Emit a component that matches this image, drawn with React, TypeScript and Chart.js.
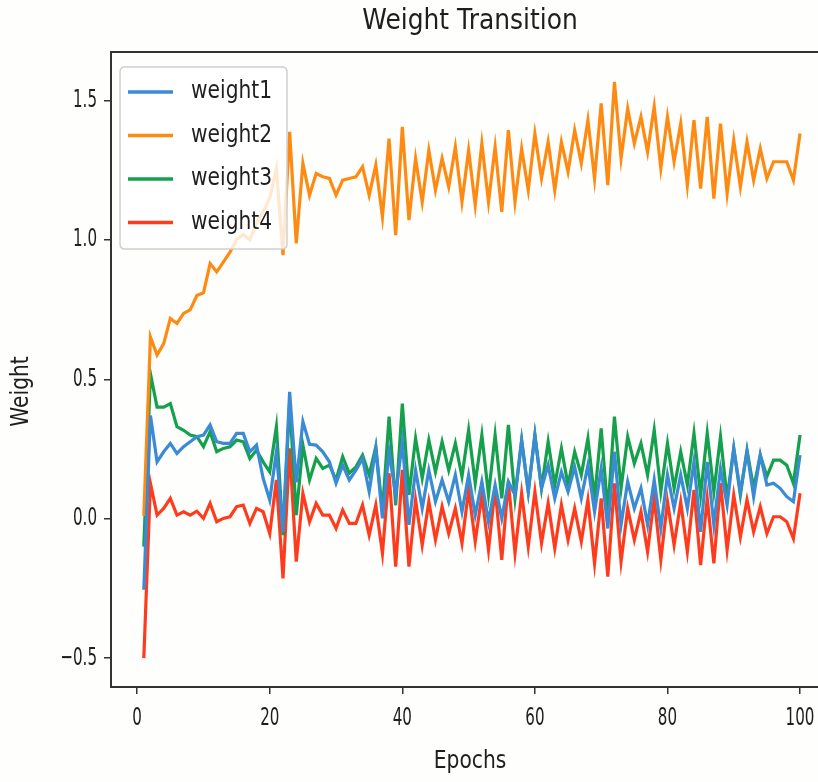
import React, { useEffect, useRef } from 'react';
import { Chart, registerables } from 'chart.js';

Chart.register(...registerables);

const epochs: number[] = Array.from({ length: 100 }, (_, i) => i + 1);

const weight1: number[] = [
  -0.255, 0.37, 0.204, 0.24, 0.27, 0.234, 0.258, 0.276, 0.294, 0.30,
  0.336, 0.276, 0.27, 0.27, 0.306, 0.306, 0.24, 0.264, 0.145, 0.067,
  0.24, -0.047, 0.455, 0.13, 0.348, 0.267, 0.264, 0.24, 0.204, 0.127,
  0.192, 0.139, 0.174, 0.216, 0.097, 0.252, 0.001, 0.24, 0.085, 0.276,
  -0.022, 0.174, 0.037, 0.174, 0.061, 0.139, 0.061, 0.157, 0.025, 0.157,
  0.013, 0.133, -0.011, 0.121, 0.001, 0.133, 0.085, 0.28, 0.097, 0.30,
  0.109, 0.192, 0.073, 0.168, 0.097, 0.186, 0.073, 0.192, 0.025, 0.18,
  -0.035, 0.24, -0.022, 0.133, 0.037, 0.109, -0.022, 0.139, -0.035, 0.157,
  0.037, 0.157, 0.037, 0.204, -0.047, 0.204, -0.022, 0.18, 0.049, 0.252,
  0.097, 0.24, 0.079, 0.228, 0.121, 0.127, 0.109, 0.079, 0.061, 0.228,
];

const weight2: number[] = [
  0.01, 0.652, 0.587, 0.628, 0.718, 0.70, 0.736, 0.749, 0.80, 0.81,
  0.915, 0.885, 0.92, 0.956, 1.0, 1.02, 1.0, 1.06, 1.1, 1.15,
  1.256, 0.945, 1.387, 0.987, 1.274, 1.16, 1.238, 1.226, 1.22, 1.16,
  1.214, 1.22, 1.226, 1.262, 1.16, 1.268, 1.082, 1.363, 1.017, 1.405,
  1.071, 1.292, 1.136, 1.321, 1.178, 1.292, 1.19, 1.333, 1.136, 1.321,
  1.124, 1.345, 1.136, 1.333, 1.1, 1.393, 1.136, 1.327, 1.178, 1.381,
  1.22, 1.351, 1.178, 1.351, 1.244, 1.393, 1.274, 1.429, 1.22, 1.489,
  1.196, 1.566, 1.292, 1.471, 1.345, 1.441, 1.315, 1.477, 1.256, 1.441,
  1.28, 1.417, 1.196, 1.429, 1.184, 1.441, 1.148, 1.417, 1.166, 1.357,
  1.19, 1.351, 1.214, 1.327, 1.22, 1.28, 1.28, 1.28, 1.214, 1.381,
];

const weight3: number[] = [
  -0.10, 0.52, 0.40, 0.40, 0.413, 0.33, 0.317, 0.30, 0.294, 0.258,
  0.312, 0.24, 0.252, 0.258, 0.282, 0.276, 0.216, 0.246, 0.204, 0.168,
  0.33, -0.059, 0.42, 0.013, 0.264, 0.139, 0.216, 0.18, 0.192, 0.139,
  0.222, 0.163, 0.186, 0.228, 0.157, 0.258, 0.025, 0.366, 0.049, 0.413,
  0.085, 0.288, 0.145, 0.282, 0.168, 0.276, 0.174, 0.27, 0.151, 0.318,
  0.127, 0.30, 0.085, 0.30, 0.073, 0.336, 0.073, 0.282, 0.097, 0.30,
  0.109, 0.276, 0.121, 0.252, 0.121, 0.24, 0.157, 0.288, 0.073, 0.324,
  0.025, 0.366, 0.109, 0.294, 0.198, 0.27, 0.157, 0.318, 0.097, 0.27,
  0.109, 0.24, 0.121, 0.306, 0.085, 0.306, 0.097, 0.294, 0.073, 0.252,
  0.085, 0.246, 0.109, 0.228, 0.151, 0.21, 0.21, 0.192, 0.127, 0.30,
];

const weight4: number[] = [
  -0.50, 0.127, 0.013, 0.037, 0.073, 0.013, 0.025, 0.013, 0.027, 0.001,
  0.055, -0.011, 0.001, 0.007, 0.043, 0.049, -0.017, 0.037, 0.025, -0.053,
  0.139, -0.214, 0.252, -0.154, 0.091, -0.011, 0.055, 0.013, 0.013, -0.035,
  0.031, -0.017, -0.017, 0.049, -0.059, 0.049, -0.124, 0.163, -0.172, 0.175,
  -0.172, 0.067, -0.094, 0.061, -0.076, 0.043, -0.053, 0.037, -0.088, 0.103,
  -0.082, 0.085, -0.112, 0.109, -0.148, 0.133, -0.124, 0.091, -0.1, 0.097,
  -0.088, 0.055, -0.106, 0.049, -0.076, 0.037, -0.082, 0.067, -0.16, 0.073,
  -0.208, 0.127, -0.154, 0.037, -0.076, 0.025, -0.118, 0.073, -0.148, 0.061,
  -0.094, 0.06, -0.118, 0.103, -0.166, 0.073, -0.16, 0.127, -0.112, 0.085,
  -0.065, 0.067, -0.047, 0.043, -0.053, 0.007, 0.007, -0.011, -0.071, 0.091,
];

const seriesLabels: string[] = ['weight1', 'weight2', 'weight3', 'weight4'];
const seriesColors: string[] = ['#3a8ad6', '#ff8a12', '#14a04c', '#ff3b1e'];

const xTicks: number[] = [0, 20, 40, 60, 80, 100];
const xTickLabels: string[] = ['0', '20', '40', '60', '80', '100'];
const yTicks: number[] = [-0.5, 0, 0.5, 1.0, 1.5];
const yTickLabels: string[] = ['\u22120.5', '0.0', '0.5', '1.0', '1.5'];

const titleText = 'Weight Transition';
const xTitle = 'Epochs';
const yTitle = 'Weight';

const FONT = "'DejaVu Sans', sans-serif";
const TEXT_COLOR = '#1e1e1e';
const SPINE = '#333333';

function drawText(
  ctx: CanvasRenderingContext2D,
  text: string,
  x: number,
  y: number,
  size: number,
  sx: number,
  sy: number,
  align: CanvasTextAlign,
  rot = 0
) {
  ctx.save();
  ctx.translate(x, y);
  if (rot) ctx.rotate(rot);
  ctx.scale(sx, sy);
  ctx.font = `${size}px ${FONT}`;
  ctx.textAlign = align;
  ctx.textBaseline = 'middle';
  ctx.fillStyle = TEXT_COLOR;
  ctx.fillText(text, 0, 0);
  ctx.restore();
}

const decorPlugin = {
  id: 'decor',
  beforeDraw(chart: any) {
    const ctx = chart.ctx as CanvasRenderingContext2D;
    ctx.save();
    ctx.fillStyle = '#fefefc';
    ctx.fillRect(0, 0, chart.width, chart.height);
    ctx.restore();
  },
  afterDatasetsDraw(chart: any) {
    const ctx = chart.ctx as CanvasRenderingContext2D;
    const { left, top, right, bottom } = chart.chartArea;
    ctx.save();
    ctx.strokeStyle = SPINE;
    ctx.lineWidth = 2;
    ctx.beginPath();
    ctx.moveTo(right + 2, top);
    ctx.lineTo(left, top);
    ctx.lineTo(left, bottom);
    ctx.lineTo(right + 2, bottom);
    ctx.stroke();
    ctx.restore();

    const bx = 120, by = 67, bw = 167, bh = 182, r = 5;
    ctx.save();
    ctx.beginPath();
    ctx.moveTo(bx + r, by);
    ctx.lineTo(bx + bw - r, by);
    ctx.quadraticCurveTo(bx + bw, by, bx + bw, by + r);
    ctx.lineTo(bx + bw, by + bh - r);
    ctx.quadraticCurveTo(bx + bw, by + bh, bx + bw - r, by + bh);
    ctx.lineTo(bx + r, by + bh);
    ctx.quadraticCurveTo(bx, by + bh, bx, by + bh - r);
    ctx.lineTo(bx, by + r);
    ctx.quadraticCurveTo(bx, by, bx + r, by);
    ctx.closePath();
    ctx.fillStyle = 'rgba(255,255,255,0.8)';
    ctx.fill();
    ctx.strokeStyle = '#d0d0d0';
    ctx.lineWidth = 1.5;
    ctx.stroke();
    chart.data.datasets.forEach((ds: any, i: number) => {
      const y = 92 + i * 43.5;
      ctx.strokeStyle = ds.borderColor;
      ctx.lineWidth = 3.5;
      ctx.beginPath();
      ctx.moveTo(128, y);
      ctx.lineTo(173, y);
      ctx.stroke();
      drawText(ctx, ds.label, 191, y, 22, 0.92, 1.12, 'left');
    });
    ctx.restore();
  },
  afterDraw(chart: any) {
    const ctx = chart.ctx as CanvasRenderingContext2D;
    const xs = chart.scales.x;
    const ys = chart.scales.y;
    const { left, top, bottom } = chart.chartArea;
    drawText(ctx, titleText, 470, 22, 26, 0.96, 1.1, 'center');
    xTicks.forEach((v, i) => {
      drawText(ctx, xTickLabels[i], xs.getPixelForValue(v), bottom + 31, 21, 0.72, 1.2, 'center');
    });
    yTicks.forEach((v, i) => {
      drawText(ctx, yTickLabels[i], left - 14, ys.getPixelForValue(v), 21, 0.72, 1.2, 'right');
    });
    drawText(ctx, xTitle, 470, 762, 22, 0.92, 1.12, 'center');
    drawText(ctx, yTitle, 22, (top + bottom) / 2 + 22, 22, 0.92, 1.12, 'center', -Math.PI / 2);
  },
};

export default function App() {
  const ref = useRef<HTMLCanvasElement | null>(null);
  useEffect(() => {
    if (!ref.current) return;
    const datasets = [weight1, weight2, weight3, weight4].map((arr, k) => ({
      label: seriesLabels[k],
      data: arr.map((v, i) => ({ x: epochs[i], y: v })),
      borderColor: seriesColors[k],
      backgroundColor: seriesColors[k],
      borderWidth: 3.2,
      pointRadius: 0,
      tension: 0,
      fill: false,
    }));
    const chart = new Chart(ref.current, {
      type: 'line',
      data: { datasets },
      options: {
        animation: false,
        responsive: false,
        layout: { padding: { top: 52, left: 0, right: 0, bottom: 0 } },
        plugins: { legend: { display: false }, title: { display: false }, tooltip: { enabled: false } },
        scales: {
          x: {
            type: 'linear',
            min: -3.95,
            max: 102.71,
            afterBuildTicks: (s: any) => {
              s.ticks = xTicks.map((v) => ({ value: v }));
            },
            afterFit: (s: any) => {
              s.height = 95;
            },
            ticks: { display: false },
            grid: { drawOnChartArea: false, drawTicks: true, tickLength: 7, color: SPINE, lineWidth: 1.5 },
            border: { display: false },
          },
          y: {
            type: 'linear',
            min: -0.6035,
            max: 1.6735,
            afterBuildTicks: (s: any) => {
              s.ticks = yTicks.map((v) => ({ value: v }));
            },
            afterFit: (s: any) => {
              s.width = 111;
            },
            ticks: { display: false },
            grid: { drawOnChartArea: false, drawTicks: true, tickLength: 7, color: SPINE, lineWidth: 1.5 },
            border: { display: false },
          },
        },
      },
      plugins: [decorPlugin],
    });
    return () => chart.destroy();
  }, []);
  return (
    <div style={{ position: 'absolute', left: 0, top: 0, width: 818, height: 782 }}>
      <canvas ref={ref} width={818} height={782} style={{ display: 'block' }} />
    </div>
  );
}
